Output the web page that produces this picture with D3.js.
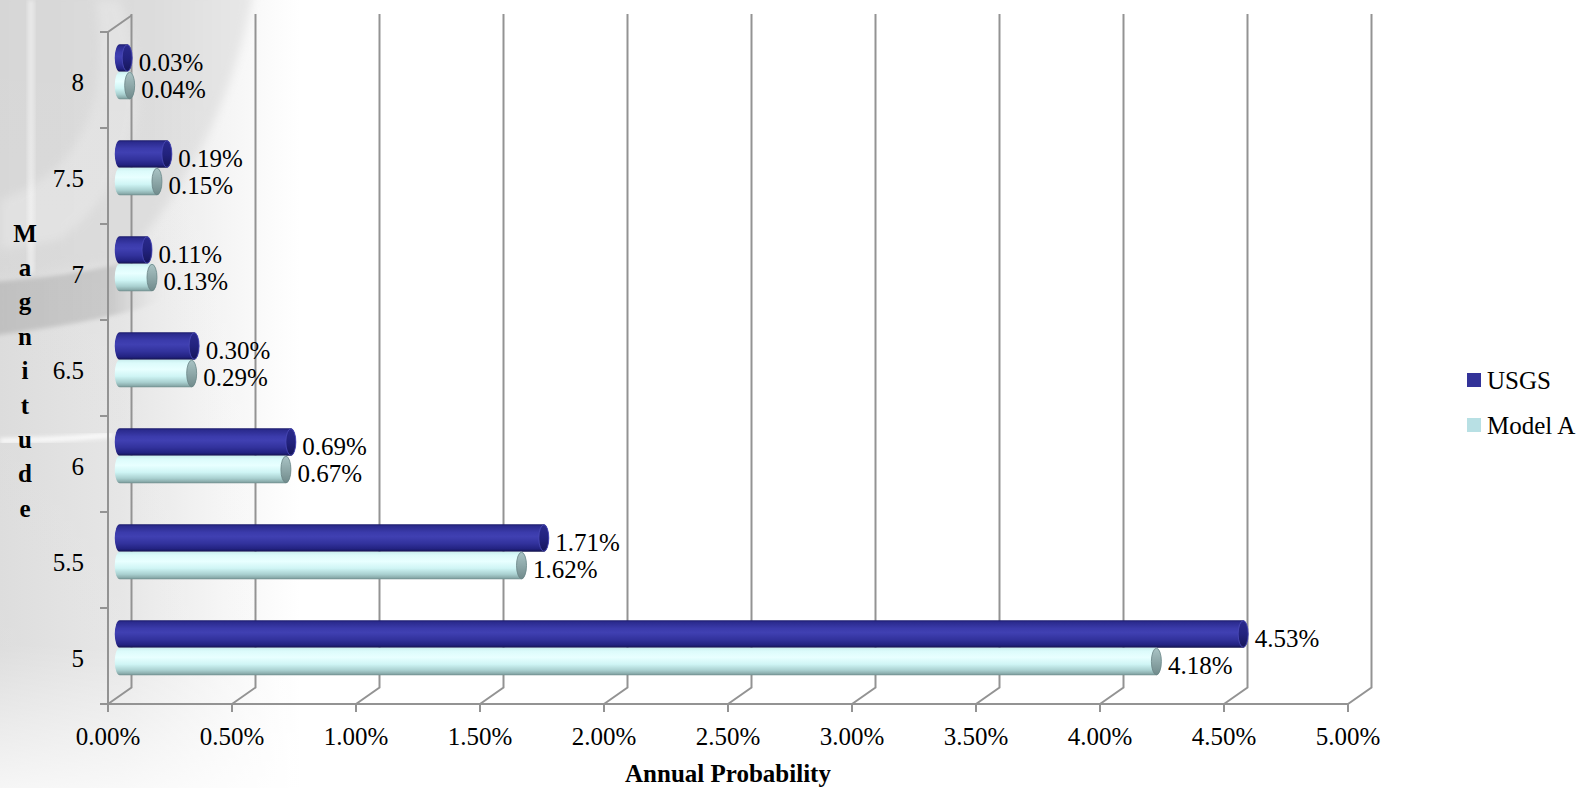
<!DOCTYPE html>
<html>
<head>
<meta charset="utf-8">
<script src="https://cdn.jsdelivr.net/npm/d3@7"></script>
<style>
  html, body { margin: 0; padding: 0; background: #fff; }
  svg { display: block; }
  text { font-family: "Liberation Serif", "Times New Roman", serif; fill: #000; }
</style>
</head>
<body>
<svg id="chart" width="1585" height="788"></svg>
<script>
// Annual probability of earthquakes by magnitude (percent)
const categories = ["5", "5.5", "6", "6.5", "7", "7.5", "8"];
const seriesNames = ["USGS", "Model A"];
const usgsValues = [4.53, 1.71, 0.69, 0.30, 0.11, 0.19, 0.03];
const modelAValues = [4.18, 1.62, 0.67, 0.29, 0.13, 0.15, 0.04];
const xTickValues = [0, 0.5, 1, 1.5, 2, 2.5, 3, 3.5, 4, 4.5, 5];
const xTitle = "Annual Probability";
const yTitle = "Magnitude";

const svg = d3.select("#chart");
const W = 1585, H = 788;

// plot frame (front plane) and 3-D depth offset of the back wall
const plot = { left: 108, right: 1348, top: 32, bottom: 704 };
const depth = { dx: 23.5, dy: -16.5 };

const x = d3.scaleLinear().domain([0, 5]).range([plot.left, plot.right]);
const y = d3.scaleBand().domain(categories.slice().reverse()).range([plot.top, plot.bottom]);
const inner = d3.scaleBand().domain(seriesNames).range([0, y.bandwidth()])
  .paddingInner(0).paddingOuter(0.7455);

const defs = svg.append("defs");

// ---- decorative slide background on the left ----
const soft = defs.append("filter").attr("id", "soft")
  .attr("x", "-20%").attr("y", "-20%").attr("width", "140%").attr("height", "140%");
soft.append("feGaussianBlur").attr("stdDeviation", 5);
const softer = defs.append("filter").attr("id", "softer")
  .attr("x", "-20%").attr("y", "-20%").attr("width", "140%").attr("height", "140%");
softer.append("feGaussianBlur").attr("stdDeviation", 2);

const fadeH = defs.append("linearGradient").attr("id", "bgFade")
  .attr("x1", 0).attr("y1", 0).attr("x2", 1).attr("y2", 0);
fadeH.append("stop").attr("offset", 0).attr("stop-color", "#dadada");
fadeH.append("stop").attr("offset", 0.4).attr("stop-color", "#e4e4e4");
fadeH.append("stop").attr("offset", 0.75).attr("stop-color", "#f5f5f5");
fadeH.append("stop").attr("offset", 1).attr("stop-color", "#ffffff");

const fadeV = defs.append("linearGradient").attr("id", "bgFadeV")
  .attr("x1", 0).attr("y1", 0).attr("x2", 0).attr("y2", 1);
fadeV.append("stop").attr("offset", 0).attr("stop-color", "#fff").attr("stop-opacity", 0);
fadeV.append("stop").attr("offset", 0.82).attr("stop-color", "#fff").attr("stop-opacity", 0.1);
fadeV.append("stop").attr("offset", 1).attr("stop-color", "#fff").attr("stop-opacity", 0.75);

const sweepGrad = defs.append("linearGradient").attr("id", "sweepGrad")
  .attr("x1", 0).attr("y1", 0).attr("x2", 1).attr("y2", 0);
sweepGrad.append("stop").attr("offset", 0).attr("stop-color", "#d6d6d6");
sweepGrad.append("stop").attr("offset", 0.6).attr("stop-color", "#dcdcdc");
sweepGrad.append("stop").attr("offset", 1).attr("stop-color", "#e8e8e8");

const bandGrad = defs.append("linearGradient").attr("id", "bandGrad")
  .attr("x1", 0).attr("y1", 0).attr("x2", 1).attr("y2", 0);
bandGrad.append("stop").attr("offset", 0).attr("stop-color", "#bcbcbc").attr("stop-opacity", 1);
bandGrad.append("stop").attr("offset", 0.7).attr("stop-color", "#c4c4c4").attr("stop-opacity", 0.9);
bandGrad.append("stop").attr("offset", 1).attr("stop-color", "#d8d8d8").attr("stop-opacity", 0);

const bg = svg.append("g").attr("class", "background");
bg.append("rect").attr("x", 0).attr("y", 0).attr("width", 300).attr("height", H)
  .attr("fill", "url(#bgFade)");
// grey sweep bounded by a curved edge
bg.append("path")
  .attr("d", "M-10,-10 L254,-10 C236,90 190,190 120,262 L-10,280 Z")
  .attr("fill", "url(#sweepGrad)").attr("filter", "url(#soft)");
// lighter wash inside the curve
bg.append("path")
  .attr("d", "M120,0 C150,80 150,170 60,240 L0,250 L0,200 C90,170 110,90 95,0 Z")
  .attr("fill", "#ececec").attr("opacity", 0.45).attr("filter", "url(#soft)");
// darker band curling into the sweep
bg.append("path")
  .attr("d", "M-10,282 C50,278 95,271 140,258 C150,250 156,240 160,232 L162,300 C130,314 80,324 -10,336 Z")
  .attr("fill", "url(#bandGrad)").attr("filter", "url(#softer)");
// thin light streaks
bg.append("path")
  .attr("d", "M28,0 L34,0 L34,272 L28,275 Z")
  .attr("fill", "#ffffff").attr("opacity", 0.5).attr("filter", "url(#softer)");
bg.append("path")
  .attr("d", "M0,441 C40,440 80,438 112,435")
  .attr("fill", "none").attr("stroke", "#ffffff").attr("stroke-width", 5).attr("opacity", 0.9)
  .attr("filter", "url(#softer)");
bg.append("rect").attr("x", 0).attr("y", 0).attr("width", 300).attr("height", H)
  .attr("fill", "url(#bgFadeV)");

// ---- 3-D grid: back-wall verticals with floor diagonals ----
const gridColor = "#939393";
const grid = svg.append("g").attr("class", "grid")
  .attr("stroke", gridColor).attr("stroke-width", 2).attr("fill", "none");
grid.selectAll("path.gl").data(xTickValues).join("path").attr("class", "gl")
  .attr("d", d => {
    const xb = x(d) + depth.dx;
    return `M${xb},14 L${xb},${plot.bottom + depth.dy} L${x(d)},${plot.bottom}`;
  });

// value axis (front edge) and its ticks
const axes = svg.append("g").attr("class", "axes")
  .attr("stroke", gridColor).attr("stroke-width", 2).attr("fill", "none");
axes.append("line").attr("x1", plot.left).attr("x2", plot.right)
  .attr("y1", plot.bottom).attr("y2", plot.bottom);
axes.selectAll("line.xt").data(xTickValues).join("line").attr("class", "xt")
  .attr("x1", d => x(d)).attr("x2", d => x(d))
  .attr("y1", plot.bottom).attr("y2", plot.bottom + 8);

// category axis (front edge) with its top diagonal and boundary ticks
axes.append("path")
  .attr("d", `M${plot.left + depth.dx},${plot.top + depth.dy} L${plot.left},${plot.top} L${plot.left},${plot.bottom}`);
const bounds = y.domain().map(c => y(c)).concat([plot.bottom]);
axes.selectAll("line.yt").data(bounds).join("line").attr("class", "yt")
  .attr("x1", plot.left - 8).attr("x2", plot.left)
  .attr("y1", d => d).attr("y2", d => d);

// ---- cylinder gradients ----
function cylGrad(id, stops) {
  const g = defs.append("linearGradient").attr("id", id)
    .attr("x1", 0).attr("y1", 0).attr("x2", 0).attr("y2", 1);
  stops.forEach(([o, c]) => g.append("stop").attr("offset", o).attr("stop-color", c));
}
cylGrad("cylUSGS", [[0, "#1a1a6a"], [0.07, "#2b2b8e"], [0.3, "#3b3bab"], [0.45, "#4040b2"],
  [0.7, "#32329c"], [0.9, "#222280"], [1, "#12124a"]]);
cylGrad("cylModel", [[0, "#c9eeee"], [0.12, "#dcfbfb"], [0.35, "#e8ffff"], [0.6, "#cff5f5"],
  [0.82, "#a9d0d0"], [0.93, "#8eb0b0"], [1, "#6f8d8d"]]);
cylGrad("capUSGS", [[0, "#2a2a8c"], [0.5, "#22227e"], [1, "#16165a"]]);
cylGrad("capModel", [[0, "#a9c3c4"], [0.5, "#8ea8a9"], [1, "#718b8c"]]);

const seriesStyle = {
  "USGS": { body: "url(#cylUSGS)", cap: "url(#capUSGS)", capStroke: "#4a4ab8", values: usgsValues },
  "Model A": { body: "url(#cylModel)", cap: "url(#capModel)", capStroke: "#6a8485", values: modelAValues }
};

const rows = [];
categories.forEach((c, i) => {
  seriesNames.forEach(s => rows.push({ cat: c, series: s, value: seriesStyle[s].values[i] }));
});

const barH = inner.bandwidth();
const rx = 5;
const bars = svg.append("g").attr("class", "bars");
const barG = bars.selectAll("g.bar").data(rows).join("g").attr("class", "bar");

function geom(d) {
  const y0 = y(d.cat) + inner(d.series) + depth.dy / 2;
  const x0 = x(0) + depth.dx / 2;
  const x1 = x(d.value) + depth.dx / 2;
  return { y0, y1: y0 + barH, x0, x1, cy: y0 + barH / 2 };
}

barG.append("path")
  .attr("d", d => {
    const g = geom(d), ry = barH / 2;
    return `M${g.x0},${g.y0} L${g.x1},${g.y0} A${rx},${ry} 0 0 1 ${g.x1},${g.y1} ` +
      `L${g.x0},${g.y1} A${rx},${ry} 0 0 1 ${g.x0},${g.y0} Z`;
  })
  .attr("fill", d => seriesStyle[d.series].body);

barG.append("ellipse")
  .attr("cx", d => geom(d).x1).attr("cy", d => geom(d).cy)
  .attr("rx", rx).attr("ry", barH / 2 - 0.5)
  .attr("fill", d => seriesStyle[d.series].cap)
  .attr("stroke", d => seriesStyle[d.series].capStroke).attr("stroke-width", 0.8);

// value labels at the bar ends
barG.append("text")
  .attr("x", d => geom(d).x1 + rx + 6.5)
  .attr("y", d => geom(d).cy + 13)
  .attr("font-size", 25)
  .text(d => d.value.toFixed(2) + "%");

// ---- axis labels ----
svg.append("g").selectAll("text").data(xTickValues).join("text")
  .attr("x", d => x(d)).attr("y", 745)
  .attr("text-anchor", "middle").attr("font-size", 25)
  .text(d => d.toFixed(2) + "%");

svg.append("g").selectAll("text").data(categories).join("text")
  .attr("x", 84).attr("y", d => y(d) + y.bandwidth() / 2 + 10.5)
  .attr("text-anchor", "end").attr("font-size", 25)
  .text(d => d);

svg.append("text").attr("x", (x(0) + x(5)) / 2).attr("y", 782)
  .attr("text-anchor", "middle").attr("font-size", 25).attr("font-weight", "bold")
  .text(xTitle);

svg.append("g").selectAll("text").data(yTitle.split("")).join("text")
  .attr("x", 25).attr("y", (d, i) => 241.5 + i * 34.4)
  .attr("text-anchor", "middle").attr("font-size", 25).attr("font-weight", "bold")
  .text(d => d);

// ---- legend ----
const legendColors = { "USGS": "#333399", "Model A": "#b8e0e4" };
const legend = svg.append("g").attr("class", "legend");
const lg = legend.selectAll("g").data(seriesNames).join("g")
  .attr("transform", (d, i) => `translate(1467, ${373 + i * 45})`);
lg.append("rect").attr("width", 14).attr("height", 14).attr("fill", d => legendColors[d]);
lg.append("text").attr("x", 20).attr("y", 15.5).attr("font-size", 25).text(d => d);
</script>
</body>
</html>
